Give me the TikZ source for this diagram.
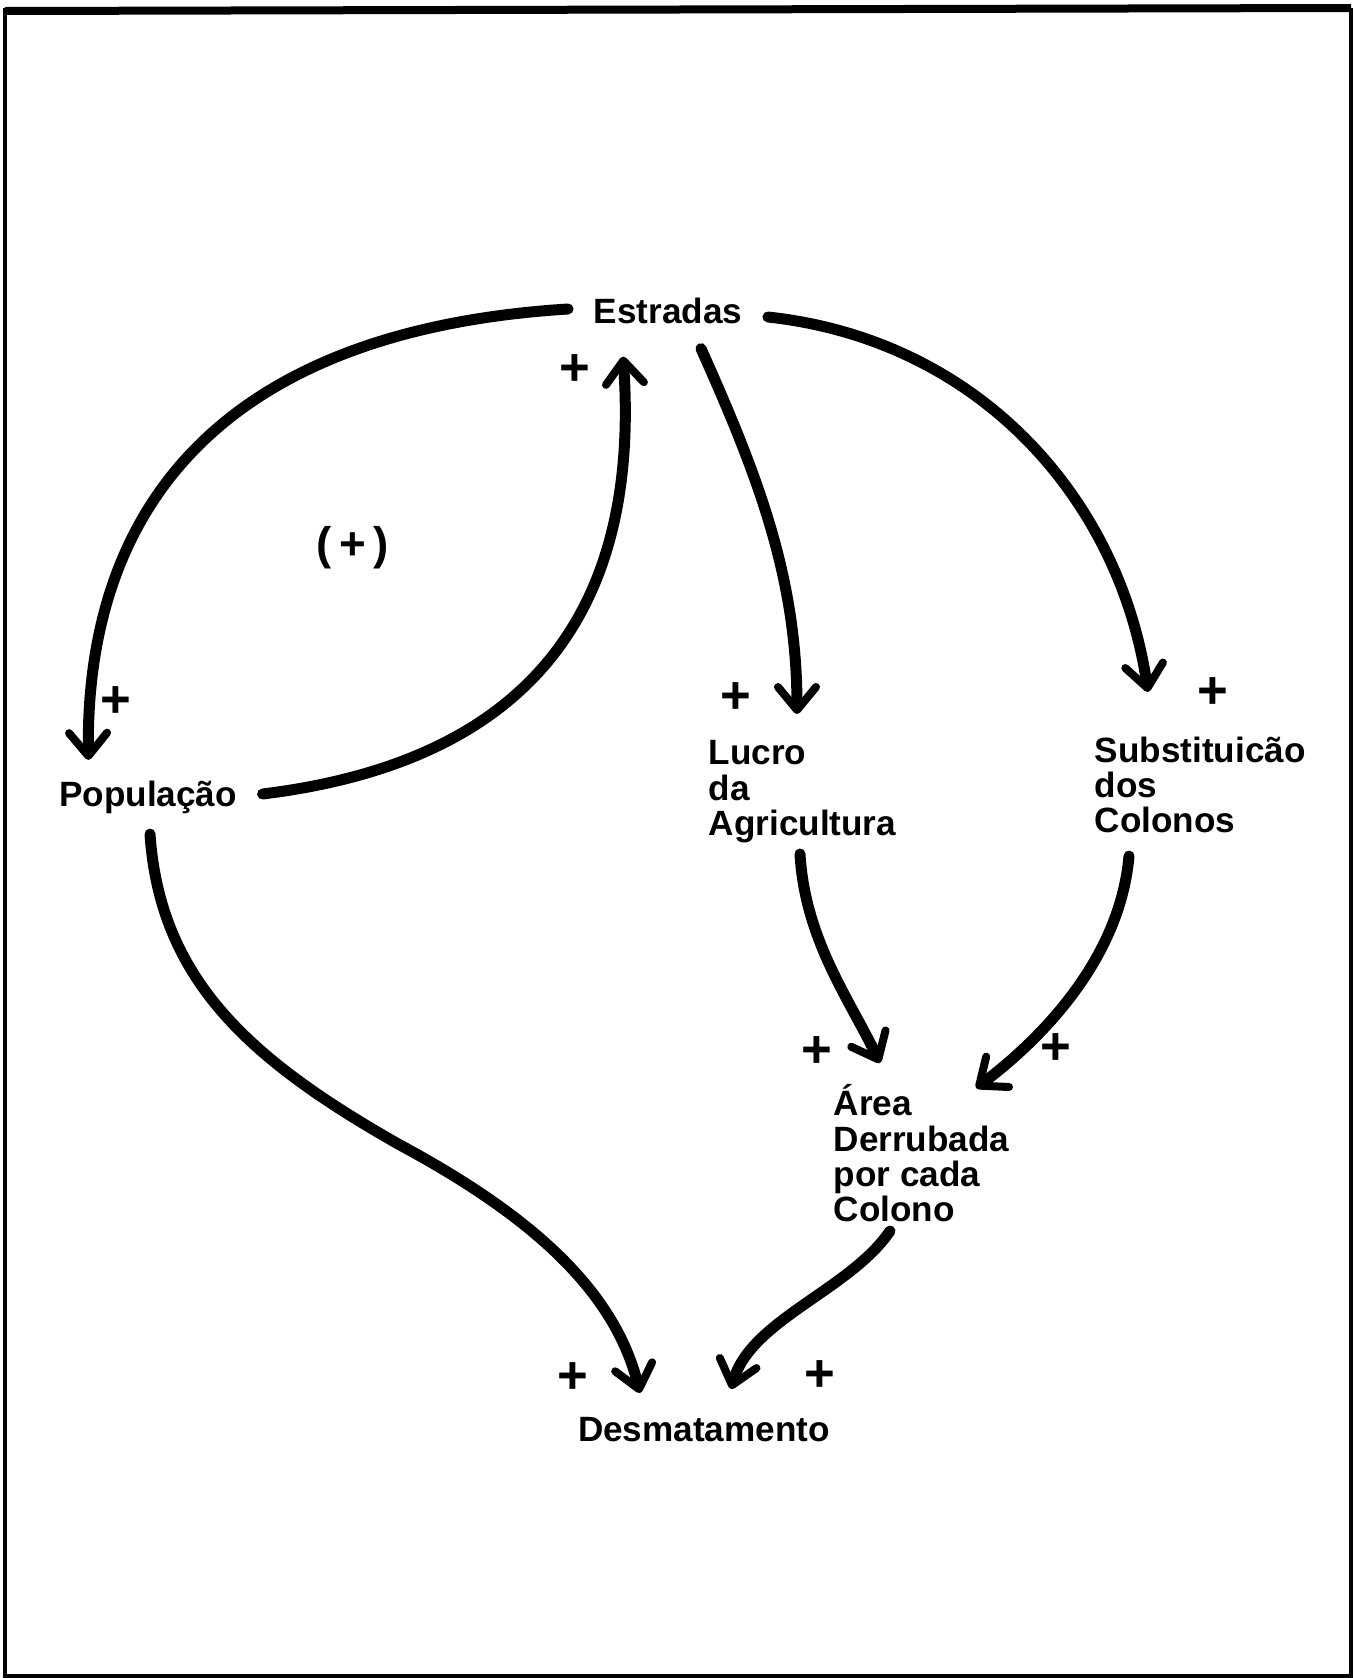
\documentclass[tikz,border=0pt]{standalone}
\usepackage{fontspec}
\setmainfont{Liberation Sans}
\usepackage{tikz}
\usetikzlibrary{arrows.meta,calc,positioning}
\tikzset{every picture/.style={
  >={Straight Barb[length=2.3mm,width=3.8mm,line width=0.8mm,round]} % Open hand-drawn heads.
  }
}

\begin{document}
\begin{tikzpicture}[
    x=0.1mm,y=-0.1mm,
    lbl/.style={
      inner sep=0pt,
      font=\fontsize{10}{10}\selectfont\bfseries
    },
    sign/.style={
      inner sep=0pt,
      font=\fontsize{15}{15}\selectfont\bfseries
    },
    flow/.style={->,line width=1.1mm,line cap=round}]

    \useasboundingbox (0,0) rectangle (1356,1678);

    % Frame round the page.
    \draw[line width=0.45mm] (5,10) rectangle (1351,1676);
    \draw[line width=0.8mm] (5,11) -- (1351,8);

    % Place the variables of the loop.
    \node[lbl] (estr) at (668,311) {Estradas};
    \node[lbl] (pop) at (148,797) {População};
    \node[lbl,align=left,anchor=north west] (lucro) at (708,740)
      {Lucro\\da\\Agricultura};
    \node[lbl,align=left,anchor=north west] (subst) at (1094,736)
      {Substituicão\\dos\\Colonos};
    \node[lbl,align=left,anchor=north west] (area) at (833,1084)
      {Área\\Derrubada\\por cada\\Colono};
    \node[lbl] (desm) at (704,1430) {Desmatamento};

    % .. and mark the loop itself.
    \node[lbl,font=\fontsize{13}{13}\selectfont\bfseries] (loop) at (353,548) {(\,+\,)};

    % The links out of Estradas.
    \draw[flow] ($(estr.west)+(-25,-2)$) .. controls (230,330)
      and (85,500) .. ($(pop.north west)+(30,-20)$);
    \draw[flow] ($(estr.south)+(33,24)$) .. controls (760,480)
      and (797,580) .. ($(lucro.north west)+(89,-26)$);
    \draw[flow] ($(estr.east)+(25,6)$) .. controls (980,340)
      and (1120,500) .. ($(subst.north west)+(54,-44)$);

    % Population feeds back into the roads.
    \draw[flow] ($(pop.east)+(25,-3)$) .. controls (540,760)
      and (640,600) .. ($(estr.south west)+(30,32)$);

    % Links down to the cleared area.
    \draw[flow] ($(lucro.north west)+(92,114)$) .. controls (805,940)
      and (850,1000) .. ($(area.north west)+(47,-21)$);
    \draw[flow] ($(subst.north west)+(35,120)$) .. controls (1120,960)
      and (1040,1040) .. ($(area.north west)+(143,4)$);

    % Links into Desmatamento.
    \draw[flow] ($(pop.south)+(2,20)$) .. controls (160,980)
      and (250,1060) .. (400,1145) .. controls (530,1215)
      and (615,1290) .. ($(desm.north)+(-64,-24)$);
    \draw[flow] ($(area.north west)+(57,147)$) .. controls (850,1290)
      and (750,1320) .. ($(desm.north)+(27,-28)$);

    % Place the signs of the links.
    \foreach \x/\y [count=\i] in {116/702,575/370,736/698,1213/693,
      817/1052,1056/1049,573/1378,820/1376} {
      \node[sign] (s\i) at (\x,\y) {+};
    };
  \end{tikzpicture}
\end{document}
